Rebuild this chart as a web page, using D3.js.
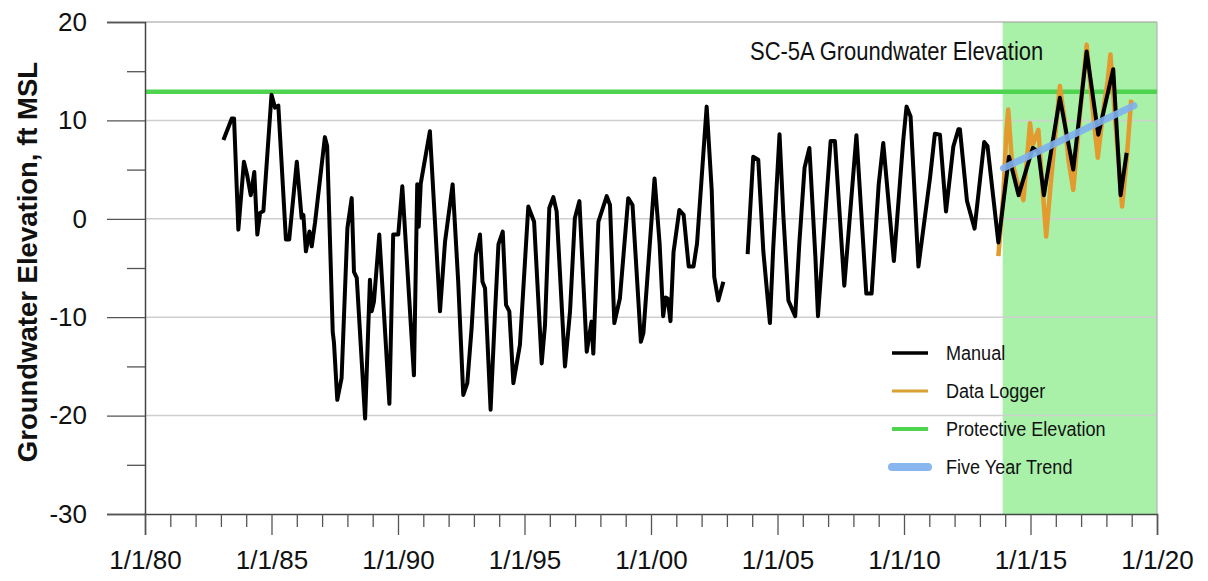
<!DOCTYPE html>
<html><head><meta charset="utf-8">
<script src="https://cdn.jsdelivr.net/npm/d3@7"></script>
<style>
body{margin:0;background:#fff;}
svg{display:block;font-family:"Liberation Sans",Arial,sans-serif;}
</style>
</head><body>
<svg id="c" width="1208" height="581"></svg>
<script>
// ---- data (decimal years, ft MSL) ----
const chartTitle = "SC-5A Groundwater Elevation";
const yAxisTitle = "Groundwater Elevation, ft MSL";
const xTickYears = [1980,1985,1990,1995,2000,2005,2010,2015,2020];
const yTickValues = [-30,-20,-10,0,10,20];
const yMinorValues = [-25,-15,-5,5,15];
const legendLabels = ["Manual","Data Logger","Protective Elevation","Five Year Trend"];

const manualYears = [1983.10,1983.43,1983.52,1983.69,1983.91,1984.04,1984.18,1984.32,1984.44,1984.55,1984.68,
1985.00,1985.14,1985.27,1985.57,1985.70,1986.00,1986.19,1986.26,1986.36,1986.50,1986.59,1986.72,
1987.11,1987.20,1987.42,1987.47,1987.60,1987.77,1988.00,1988.17,1988.26,1988.37,1988.70,1988.89,1988.96,
1989.05,1989.26,1989.66,1989.81,1990.01,1990.17,1990.63,1990.76,1990.82,1990.90,1991.26,1991.66,1991.86,
1992.16,1992.38,1992.58,1992.74,1992.91,1993.08,1993.24,1993.34,1993.44,1993.66,1993.83,1993.97,
1994.14,1994.27,1994.40,1994.56,1994.82,1995.15,1995.38,1995.68,1995.81,1995.98,1996.14,1996.27,
1996.60,1996.80,1996.99,1997.17,1997.46,1997.65,1997.72,1997.92,1998.25,1998.38,1998.55,1998.77,
1999.10,1999.27,1999.60,1999.70,2000.14,2000.34,2000.48,2000.58,2000.66,2000.77,2000.89,2001.12,
2001.29,2001.49,2001.68,2001.82,2002.20,2002.40,2002.50,2002.66,2002.86,
2003.30,
2003.82,2004.04,2004.24,2004.44,2004.70,2004.83,2005.08,2005.23,2005.43,2005.70,2005.86,2006.07,
2006.26,2006.50,2006.60,2007.10,2007.27,2007.64,2008.12,2008.51,2008.72,2009.00,2009.18,2009.60,
2009.97,2010.10,2010.26,2010.57,2011.03,2011.22,2011.42,2011.66,2011.95,2012.15,2012.21,2012.49,
2012.79,2013.17,2013.30,2013.73,2014.15,2014.53,2015.09,2015.31,2015.53,2016.16,2016.69,2017.22,
2017.68,2018.27,2018.56,2018.80];
const manualValues = [8.0,10.2,10.2,-1.1,5.8,4.4,2.4,4.75,-1.6,0.6,0.8,
12.6,11.3,11.5,-2.1,-2.1,5.8,0.1,0.4,-3.3,-1.3,-2.8,-0.4,
8.3,7.4,-11.5,-12.6,-18.4,-16.2,-0.95,2.1,-5.4,-6.0,-20.3,-6.2,-9.4,
-8.4,-1.6,-18.8,-1.6,-1.6,3.3,-15.9,3.5,-0.8,3.6,8.9,-9.4,-2.3,
3.5,-6.4,-17.9,-16.7,-11.1,-3.7,-1.6,-6.4,-7.05,-19.4,-9.8,-2.6,
-1.3,-8.75,-9.4,-16.7,-12.8,1.25,-0.3,-14.7,-10.8,1.1,2.2,0.75,
-15.0,-9.4,0.05,1.8,-13.5,-10.45,-13.7,-0.3,2.3,1.4,-10.6,-8.1,
2.1,1.4,-12.5,-11.6,4.1,-2.5,-9.9,-8.0,-8.1,-10.4,-3.4,0.9,
0.4,-4.85,-4.85,-2.5,11.4,2.9,-5.9,-8.3,-6.4,
null,
-3.6,6.3,6.0,-3.3,-10.6,-3.0,8.6,0.4,-8.3,-9.9,-2.6,5.2,
7.2,-4.0,-9.9,7.9,7.9,-6.8,8.5,-7.6,-7.6,3.5,7.7,-4.3,
8.0,11.4,10.4,-4.85,4.2,8.65,8.55,0.75,7.35,9.1,9.1,1.8,
-1.0,7.8,7.4,-2.4,6.3,2.4,7.2,6.85,2.4,12.3,5.0,17.0,
8.55,15.2,2.4,6.7];

const loggerYears = [2013.73,2013.93,2014.05,2014.12,2014.26,2014.45,2014.72,2014.98,2015.09,2015.31,2015.45,
2015.62,2015.78,2016.16,2016.35,2016.50,2016.69,2016.95,2017.22,2017.50,2017.66,2017.90,2018.05,
2018.16,2018.35,2018.62,2018.80,2018.98];
const loggerValues = [-3.8,2.6,9.0,11.1,6.0,4.0,1.9,9.7,7.5,9.05,4.0,
-1.8,3.0,13.5,10.0,6.0,2.95,10.5,17.7,10.0,6.2,11.5,14.0,
16.7,10.0,1.25,6.0,12.1];

const protectiveElevation = 12.9;
const trendYears = [2013.93, 2019.09];
const trendValues = [5.15, 11.5];
const shadeYears = [2013.9, 2020];

// ---- layout ----
const svg = d3.select("#c");
const L=145, R=1157, T=22, B=514;
const x = d3.scaleLinear().domain([1980,2020]).range([L,R]);
const y = d3.scaleLinear().domain([-30,20]).range([B,T]);

// shaded period
svg.append("rect").attr("x",x(shadeYears[0])).attr("y",T)
  .attr("width",x(shadeYears[1])-x(shadeYears[0])).attr("height",B-T)
  .attr("fill","#a9f1a9");

// gridlines
svg.append("g").selectAll("line").data(yTickValues.filter(v=>v>-30 && v<20)).join("line")
  .attr("x1",L).attr("x2",R).attr("y1",d=>y(d)).attr("y2",d=>y(d))
  .attr("stroke","#cfcfcf").attr("stroke-width",1.5);
// frame top/right
svg.append("line").attr("x1",L).attr("x2",R).attr("y1",T).attr("y2",T).attr("stroke","#9a9a9a").attr("stroke-width",1.2);
svg.append("line").attr("x1",R).attr("x2",R).attr("y1",T).attr("y2",B).attr("stroke","#b5b5b5").attr("stroke-width",1.2);

// protective elevation
svg.append("line").attr("x1",L).attr("x2",R)
  .attr("y1",y(protectiveElevation)).attr("y2",y(protectiveElevation))
  .attr("stroke","#4fd44f").attr("stroke-width",4.5);

// axes
const fmtX = d => "1/1/" + String(d%100).padStart(2,"0");
const yMajor = svg.append("g").attr("transform",`translate(${L},0)`)
  .call(d3.axisLeft(y).tickValues(yTickValues).tickSize(38).tickPadding(20).tickFormat(d=>String(d)));
const yMinor = svg.append("g").attr("transform",`translate(${L},0)`)
  .call(d3.axisLeft(y).tickValues(yMinorValues).tickSize(18).tickFormat(""));
const xMajor = svg.append("g").attr("transform",`translate(0,${B})`)
  .call(d3.axisBottom(x).tickValues(xTickYears).tickSize(21).tickPadding(16).tickFormat(fmtX));
const xMinor = svg.append("g").attr("transform",`translate(0,${B})`)
  .call(d3.axisBottom(x).tickValues(d3.range(1980,2021).filter(v=>v%5!==0)).tickSize(13).tickFormat(""));
[yMinor,xMinor].forEach(g=>g.select(".domain").remove());
[yMajor,yMinor,xMajor,xMinor].forEach(g=>{
  g.selectAll(".domain").attr("stroke","#444").attr("stroke-width",1.5);
  g.selectAll(".tick line").attr("stroke","#555").attr("stroke-width",1.3);
  g.selectAll("text").attr("fill","#111").style("font-size","26px").style("font-family","'Liberation Sans',Arial,sans-serif");
});

// data lines
const line = d3.line().defined(d=>d[1]!==null).x(d=>x(d[0])).y(d=>y(d[1]));
const loggerData = loggerYears.map((t,i)=>[t,loggerValues[i]]);
const manualData = manualYears.map((t,i)=>[t,manualValues[i]]);
const trendData = trendYears.map((t,i)=>[t,trendValues[i]]);
svg.append("path").datum(loggerData).attr("d",line).attr("fill","none")
  .attr("stroke","#e39b2f").attr("stroke-width",4.5).attr("stroke-linejoin","round");
svg.append("path").datum(manualData).attr("d",line).attr("fill","none")
  .attr("stroke","#000").attr("stroke-width",4).attr("stroke-linejoin","round");
svg.append("path").datum(trendData).attr("d",line).attr("fill","none")
  .attr("stroke","#7fb0f0").attr("stroke-width",7).attr("stroke-opacity",0.9).attr("stroke-linecap","round");

// title
svg.append("text").attr("transform","translate(750,60) scale(0.88,1)")
  .attr("font-size",25).attr("fill","#111").text(chartTitle);

// y-axis title
svg.append("text").attr("transform","translate(37,262) rotate(-90)")
  .attr("text-anchor","middle").attr("font-size",27.5).attr("font-weight","bold").attr("fill","#111")
  .text(yAxisTitle);

// legend
const legendStyles = [
  {c:"#000",w:3.5,cap:"butt",o:1},
  {c:"#d9a033",w:3,cap:"butt",o:1},
  {c:"#4fd44f",w:4,cap:"butt",o:1},
  {c:"#8ab6f0",w:8,cap:"round",o:1}
];
const legendY = [353,391,429,467];
const lg = svg.append("g");
legendLabels.forEach((lab,i)=>{
  const s = legendStyles[i];
  lg.append("line").attr("x1",892).attr("x2",928).attr("y1",legendY[i]).attr("y2",legendY[i])
    .attr("stroke",s.c).attr("stroke-width",s.w).attr("stroke-linecap",s.cap);
  lg.append("text").attr("transform",`translate(946,${legendY[i]+7}) scale(0.86,1)`)
    .attr("font-size",21).attr("fill","#111").text(lab);
});
</script>
</body></html>
